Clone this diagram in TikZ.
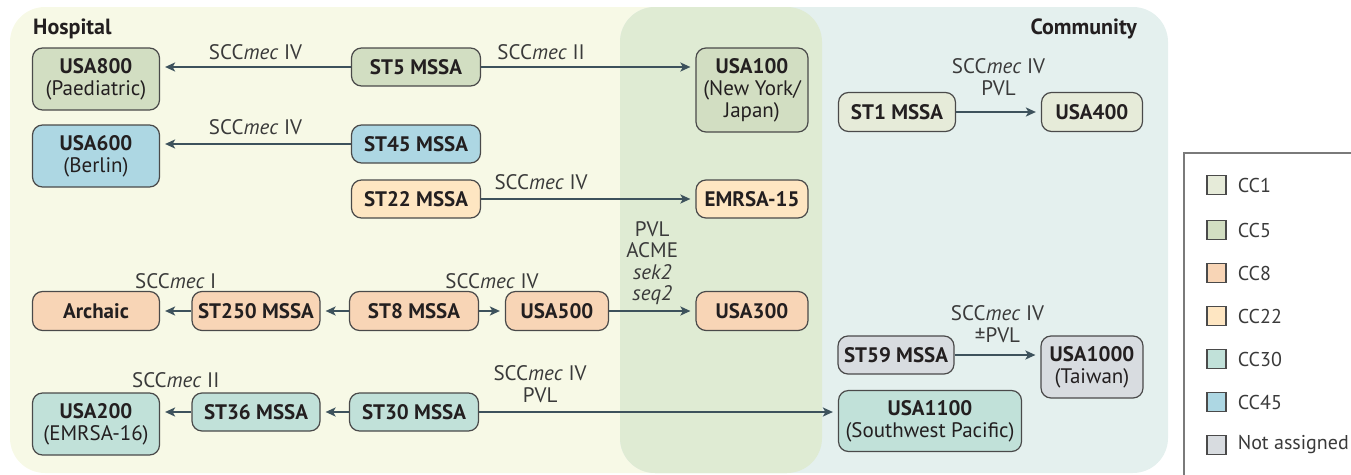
\documentclass[tikz,border=0pt]{standalone}
\usepackage{fontspec}
\setmainfont{PT Sans}
\usetikzlibrary{arrows.meta}

\definecolor{hospbg}{HTML}{F7F9E6}
\definecolor{commbg}{HTML}{E4F0EE}
\definecolor{bothbg}{HTML}{DFEBD3}
\definecolor{ccone}{HTML}{E6EBD9}
\definecolor{ccfive}{HTML}{D2DEC2}
\definecolor{cceight}{HTML}{F8D5B6}
\definecolor{cctwentytwo}{HTML}{FEE6C2}
\definecolor{ccthirty}{HTML}{C1E1D9}
\definecolor{ccfortyfive}{HTML}{ADD7E3}
\definecolor{ccnone}{HTML}{D8DCE0}
\definecolor{boxline}{HTML}{4A4A4A}
\definecolor{arrowcol}{HTML}{3D525C}
\definecolor{inkcol}{HTML}{231F20}
\definecolor{lblcol}{HTML}{3A3A3A}
\definecolor{legline}{HTML}{7A7A7A}

\tikzset{
  clone/.style={draw=boxline, line width=1.2pt, rounded corners=10pt,
    inner sep=0pt, align=center, text=inkcol,
    font=\fontsize{21}{22}\selectfont},
  stbox/.style={clone, minimum width=129pt, minimum height=38pt},
  usabox/.style={clone, minimum width=112pt, minimum height=38pt},
  wbox/.style={clone, minimum width=127pt, minimum height=62pt},
  arr/.style={draw=arrowcol, line width=2.2pt, shorten >=5pt,
    -{Stealth[length=10pt, width=9pt, inset=2.5pt]}},
  lbl/.style={inner sep=0pt, align=center, text=lblcol,
    font=\fontsize{21}{21.5}\selectfont},
  region/.style={font=\bfseries\fontsize{22}{24}\selectfont, text=inkcol, inner sep=0pt},
  legsq/.style={draw=boxline, line width=1.2pt, minimum size=19pt, inner sep=0pt},
  legtxt/.style={anchor=west, inner sep=0pt, text=lblcol,
    font=\fontsize{20}{22}\selectfont},
}

\newcommand{\scc}{SCC\textit{mec}}

\begin{document}
\begin{tikzpicture}[x=1pt, y=-1pt]
\useasboundingbox (0,0) rectangle (1351,474);

% hospital and community settings, with their overlap
\fill[hospbg, rounded corners=35pt] (10,7) rectangle (822,473);
\fill[commbg, rounded corners=35pt] (620,7) rectangle (1168,473);
\begin{scope}
  \clip[rounded corners=35pt] (10,7) rectangle (822,473);
  \fill[bothbg, rounded corners=35pt] (620,7) rectangle (1168,473);
\end{scope}

\node[region, anchor=base west] (hosp) at (33,34) {Hospital};
\node[region, anchor=base east] (comm) at (1137,34) {Community};

% clones
\node[wbox, fill=ccfive] (usa800) at (96,79) {\textbf{USA800}\\(Paediatric)};
\node[stbox, fill=ccfive] (st5) at (416,67) {\textbf{ST5 MSSA}};
\node[clone, fill=ccfive, minimum width=112pt, minimum height=84pt] (usa100) at (752,90)
  {\textbf{USA100}\\(New York/\\Japan)};

\node[wbox, fill=ccfortyfive] (usa600) at (96,156) {\textbf{USA600}\\(Berlin)};
\node[stbox, fill=ccfortyfive] (st45) at (416,144) {\textbf{ST45 MSSA}};

\node[stbox, fill=cctwentytwo] (st22) at (416,199) {\textbf{ST22 MSSA}};
\node[usabox, fill=cctwentytwo] (emrsa15) at (752,199) {\textbf{EMRSA-15}};

\node[clone, fill=ccone, minimum width=117pt, minimum height=39pt] (st1) at (897,112) {\textbf{ST1 MSSA}};
\node[clone, fill=ccone, minimum width=101pt, minimum height=39pt] (usa400) at (1092,112) {\textbf{USA400}};

\node[clone, fill=cceight, minimum width=127pt, minimum height=39pt] (archaic) at (96,311) {\textbf{Archaic}};
\node[clone, fill=cceight, minimum width=128pt, minimum height=39pt] (st250) at (256,311) {\textbf{ST250 MSSA}};
\node[clone, fill=cceight, minimum width=129pt, minimum height=39pt] (st8) at (414,311) {\textbf{ST8 MSSA}};
\node[clone, fill=cceight, minimum width=103pt, minimum height=39pt] (usa500) at (557,311) {\textbf{USA500}};
\node[clone, fill=cceight, minimum width=112pt, minimum height=39pt] (usa300) at (752,311) {\textbf{USA300}};

\node[clone, fill=ccnone, minimum width=116pt, minimum height=38pt] (st59) at (896,355) {\textbf{ST59 MSSA}};
\node[clone, fill=ccnone, minimum width=102pt, minimum height=62pt] (usa1000) at (1092,367) {\textbf{USA1000}\\(Taiwan)};

\node[wbox, fill=ccthirty] (usa200) at (96,424) {\textbf{USA200}\\(EMRSA-16)};
\node[clone, fill=ccthirty, minimum width=128pt, minimum height=38pt] (st36) at (256,412) {\textbf{ST36 MSSA}};
\node[clone, fill=ccthirty, minimum width=129pt, minimum height=38pt] (st30) at (414,412) {\textbf{ST30 MSSA}};
\node[clone, fill=ccthirty, minimum width=183pt, minimum height=61pt] (usa1100) at (930,421) {\textbf{USA1100}\\(Southwest Pacific)};

% transitions
\draw[arr] (st5.west) -- (st5.west -| usa800.east)
  node[lbl, midway, above=6.5pt] {\scc{} IV};
\draw[arr] (st5.east) -- (st5.east -| usa100.west)
  node[lbl, pos=0.28, above=6.5pt] {\scc{} II};
\draw[arr] (st45.west) -- (st45.west -| usa600.east)
  node[lbl, midway, above=8pt] {\scc{} IV};
\draw[arr] (st22) -- (emrsa15)
  node[lbl, pos=0.28, above=8pt] {\scc{} IV};
\draw[arr] (st1) -- (usa400)
  node[lbl, midway, above=15.5pt] {\scc{} IV\\PVL};

\draw[arr] (st250) -- (archaic)
  node[lbl, midway, above=21.5pt] {\scc{} I};
\draw[arr] (st8) -- (st250);
\draw[arr] (st8) -- (usa500)
  node[lbl, midway, above=21.5pt] {\scc{} IV};
\draw[arr] (usa500) -- (usa300)
  node[lbl, midway, above=5pt] {PVL\\ACME\\\textit{sek2}\\\textit{seq2}};

\draw[arr] (st59.east) -- (st59.east -| usa1000.west)
  node[lbl, midway, above=11.5pt] {\scc{} IV\\±PVL};

\draw[arr] (st36.west) -- (st36.west -| usa200.east)
  node[lbl, midway, above=23.5pt] {\scc{} II};
\draw[arr] (st30) -- (st36);
\draw[arr] (st30.east) -- (st30.east -| usa1100.west)
  node[lbl, pos=0.17, above=8.5pt] {\scc{} IV\\PVL};

% legend
\draw[legline, line width=1.5pt] (1360,153) -- (1184,153) -- (1184,480);
\node[legsq, fill=ccone] (k1) at (1216.5,185) {};
\node[legtxt] (t1) at ([xshift=11pt]k1.east) {CC1};
\node[legsq, fill=ccfive] (k2) at (1216.5,230) {};
\node[legtxt] (t2) at ([xshift=11pt]k2.east) {CC5};
\node[legsq, fill=cceight] (k3) at (1216.5,273) {};
\node[legtxt] (t3) at ([xshift=11pt]k3.east) {CC8};
\node[legsq, fill=cctwentytwo] (k4) at (1216.5,316) {};
\node[legtxt] (t4) at ([xshift=11pt]k4.east) {CC22};
\node[legsq, fill=ccthirty] (k5) at (1216.5,359) {};
\node[legtxt] (t5) at ([xshift=11pt]k5.east) {CC30};
\node[legsq, fill=ccfortyfive] (k6) at (1216.5,402) {};
\node[legtxt] (t6) at ([xshift=11pt]k6.east) {CC45};
\node[legsq, fill=ccnone] (k7) at (1216.5,445) {};
\node[legtxt] (t7) at ([xshift=11pt]k7.east) {Not assigned};
\end{tikzpicture}
\end{document}
